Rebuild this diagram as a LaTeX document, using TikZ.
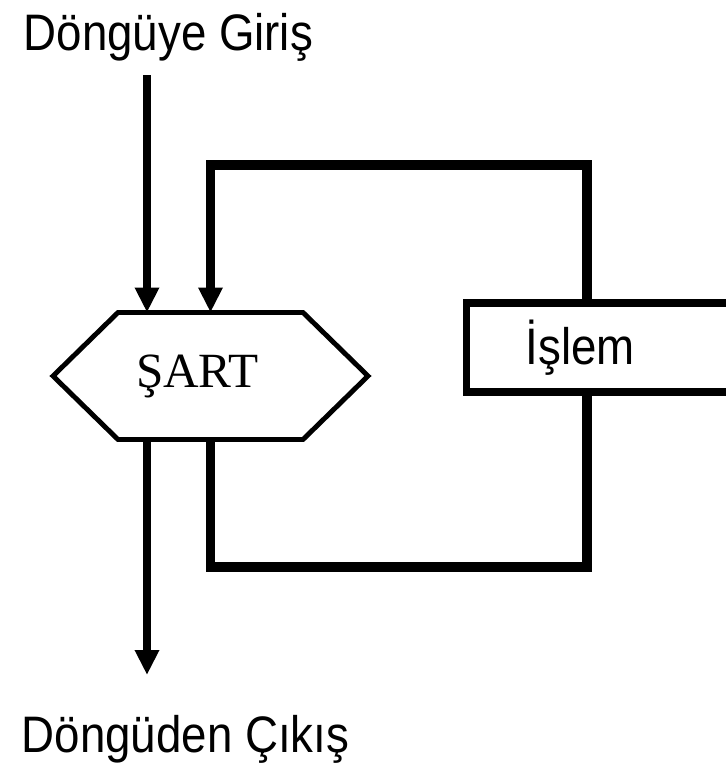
\documentclass[tikz,border=0pt]{standalone}
\usepackage{fontspec}
\usepackage{tikz}
\usetikzlibrary{
  arrows.meta,
  positioning,
}
\newfontfamily\flowsans[FakeStretch=0.89]{Liberation Sans}
\newfontfamily\flowserif{Liberation Serif}

\begin{document}
\begin{tikzpicture}[
    label/.style={font=\flowsans\fontsize{14.6}{17}\selectfont, inner sep=0pt},
    cond/.style={minimum width=1.85cm, minimum height=1.27cm, inner sep=0pt,
                 outer sep=0pt, font=\flowserif\fontsize{14}{16}\selectfont},
    proc/.style={draw, line width=2pt, anchor=west, align=left,
                 text width=2.4cm, inner xsep=0.59cm, minimum height=0.89cm,
                 font=\flowsans\fontsize{14.6}{17}\selectfont},
    flow/.style={line width=2pt, -{Triangle[width=0.23cm,length=0.25cm]}},
    loopline/.style={line width=2.7pt},
  ]
  \useasboundingbox (0,0) rectangle (7.26,7.64);
  \clip (0,0) rectangle (7.26,7.64);

  % While loop: condition on the left, body on the right
  \node[label, anchor=base west] (entry) at (0.23,7.14) {Döngüye Giriş};
  \node[label, anchor=base west] (exit)  at (0.21,0.12) {Döngüden Çıkış};

  \node[cond] (sart) at (2.105,3.88) {\raisebox{0.05cm}{\hspace*{-0.26cm}ŞART}};
  \draw[line width=1.4pt, line join=miter]
    (sart.north west) -- (sart.north east) -- ([xshift=0.65cm]sart.east)
    -- (sart.south east) -- (sart.south west) -- ([xshift=-0.65cm]sart.west)
    -- cycle;

  \node[proc] (islem) at (4.63,4.165) {İşlem};

  \coordinate (in)  at (1.47,6.89);
  \coordinate (out) at (1.47,0.89);
  \coordinate (top) at (5.87,5.99);
  \coordinate (bot) at (5.87,1.97);

  \draw[flow] (in) -- (in |- sart.north);
  \draw[flow] (in |- sart.south) -- (out);

  \draw[flow, loopline] (islem.north -| top) -- (top) -| (sart.north);
  \draw[loopline] (sart.south) |- (bot) -- (islem.south -| bot);
\end{tikzpicture}
\end{document}
